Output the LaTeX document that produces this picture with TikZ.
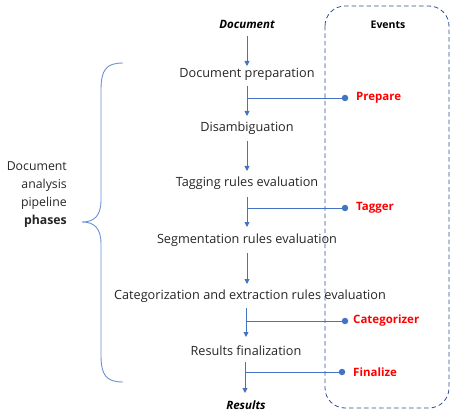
\documentclass[tikz,border=0pt]{standalone}
\usepackage{fontspec}
\setmainfont{Open Sans}
\usetikzlibrary{arrows.meta,decorations.pathreplacing}
\definecolor{lnblue}{HTML}{4472C4}
\definecolor{brblue}{HTML}{6C8FD3}
\definecolor{boxblue}{HTML}{2F4F8F}
\definecolor{txt}{HTML}{262626}
\begin{document}
\begin{tikzpicture}[x=1pt,y=-1pt,
  phase/.style={font=\fontsize{12.7}{14}\selectfont, text=txt, inner sep=0pt},
  io/.style={font=\fontsize{11.5}{14}\selectfont\bfseries\itshape, inner sep=0pt},
  evt/.style={font=\fontsize{11.5}{14}\selectfont\bfseries, text=red, inner sep=0pt, anchor=west},
  flow/.style={draw=lnblue, line width=0.9pt, -{Triangle[length=5pt,width=5pt]}},
  tap/.style={draw=lnblue, line width=0.9pt},
  dot/.style={circle, fill=lnblue, inner sep=0pt, minimum size=6.5pt}]
\useasboundingbox (0,0) rectangle (456,412);
% events box
\draw[boxblue, dash pattern=on 4.5pt off 3pt, line width=0.8pt, rounded corners=20pt] (325,6) rectangle (449,408);
\node[font=\fontsize{10.5}{12}\selectfont\bfseries, inner sep=0pt] (events) at (388,25) {Events};
% phases
\node[io] (doc) at (247,24) {Document};
\node[phase] (p1) at (247,74) {Document preparation};
\node[phase] (p2) at (247,128) {Disambiguation};
\node[phase] (p3) at (247,183) {Tagging rules evaluation};
\node[phase] (p4) at (247,240) {Segmentation rules evaluation};
\node[phase] (p5) at (250,296) {Categorization and extraction rules evaluation};
\node[phase] (p6) at (246,351) {Results finalization};
\node[io] (res) at (246,405) {Results};
% arrows
\draw[flow] (247,36) -- (247,66);
\draw[flow] (247,86) -- (247,116);
\draw[flow] (247,141) -- (247,171);
\draw[flow] (247,197) -- (247,227);
\draw[flow] (247,253) -- (247,284);
\draw[flow] (246,308) -- (246,337);
\draw[flow] (245,362) -- (245,393);
% event taps
\node[dot] (d1) at (345,98) {};
\node[evt] (e1) at (356,98) {Prepare};
\draw[tap] (247,98) -- (d1.center);
\node[dot] (d2) at (345,208) {};
\node[evt] (e2) at (356,208) {Tagger};
\draw[tap] (247,208) -- (d2.center);
\node[dot] (d3) at (345,321) {};
\node[evt] (e3) at (353,321) {Categorizer};
\draw[tap] (246,321) -- (d3.center);
\node[dot] (d4) at (342,372) {};
\node[evt] (e4) at (353,372) {Finalize};
\draw[tap] (245,372) -- (d4.center);
% brace
\draw[brblue, line width=0.9pt] (123,63) .. controls (106,63) and (101,70) .. (101,90)
  -- (101,200) .. controls (101,215) and (95,222) .. (82,222)
  .. controls (95,222) and (101,229) .. (101,244)
  -- (101,355) .. controls (101,375) and (106,382) .. (123,382);
\node[font=\fontsize{12.3}{18}\selectfont, text=txt, align=right, anchor=east, inner sep=0pt] (lbl) at (67,195)
  {Document\\analysis\\pipeline\\\textbf{phases}};
\end{tikzpicture}
\end{document}
